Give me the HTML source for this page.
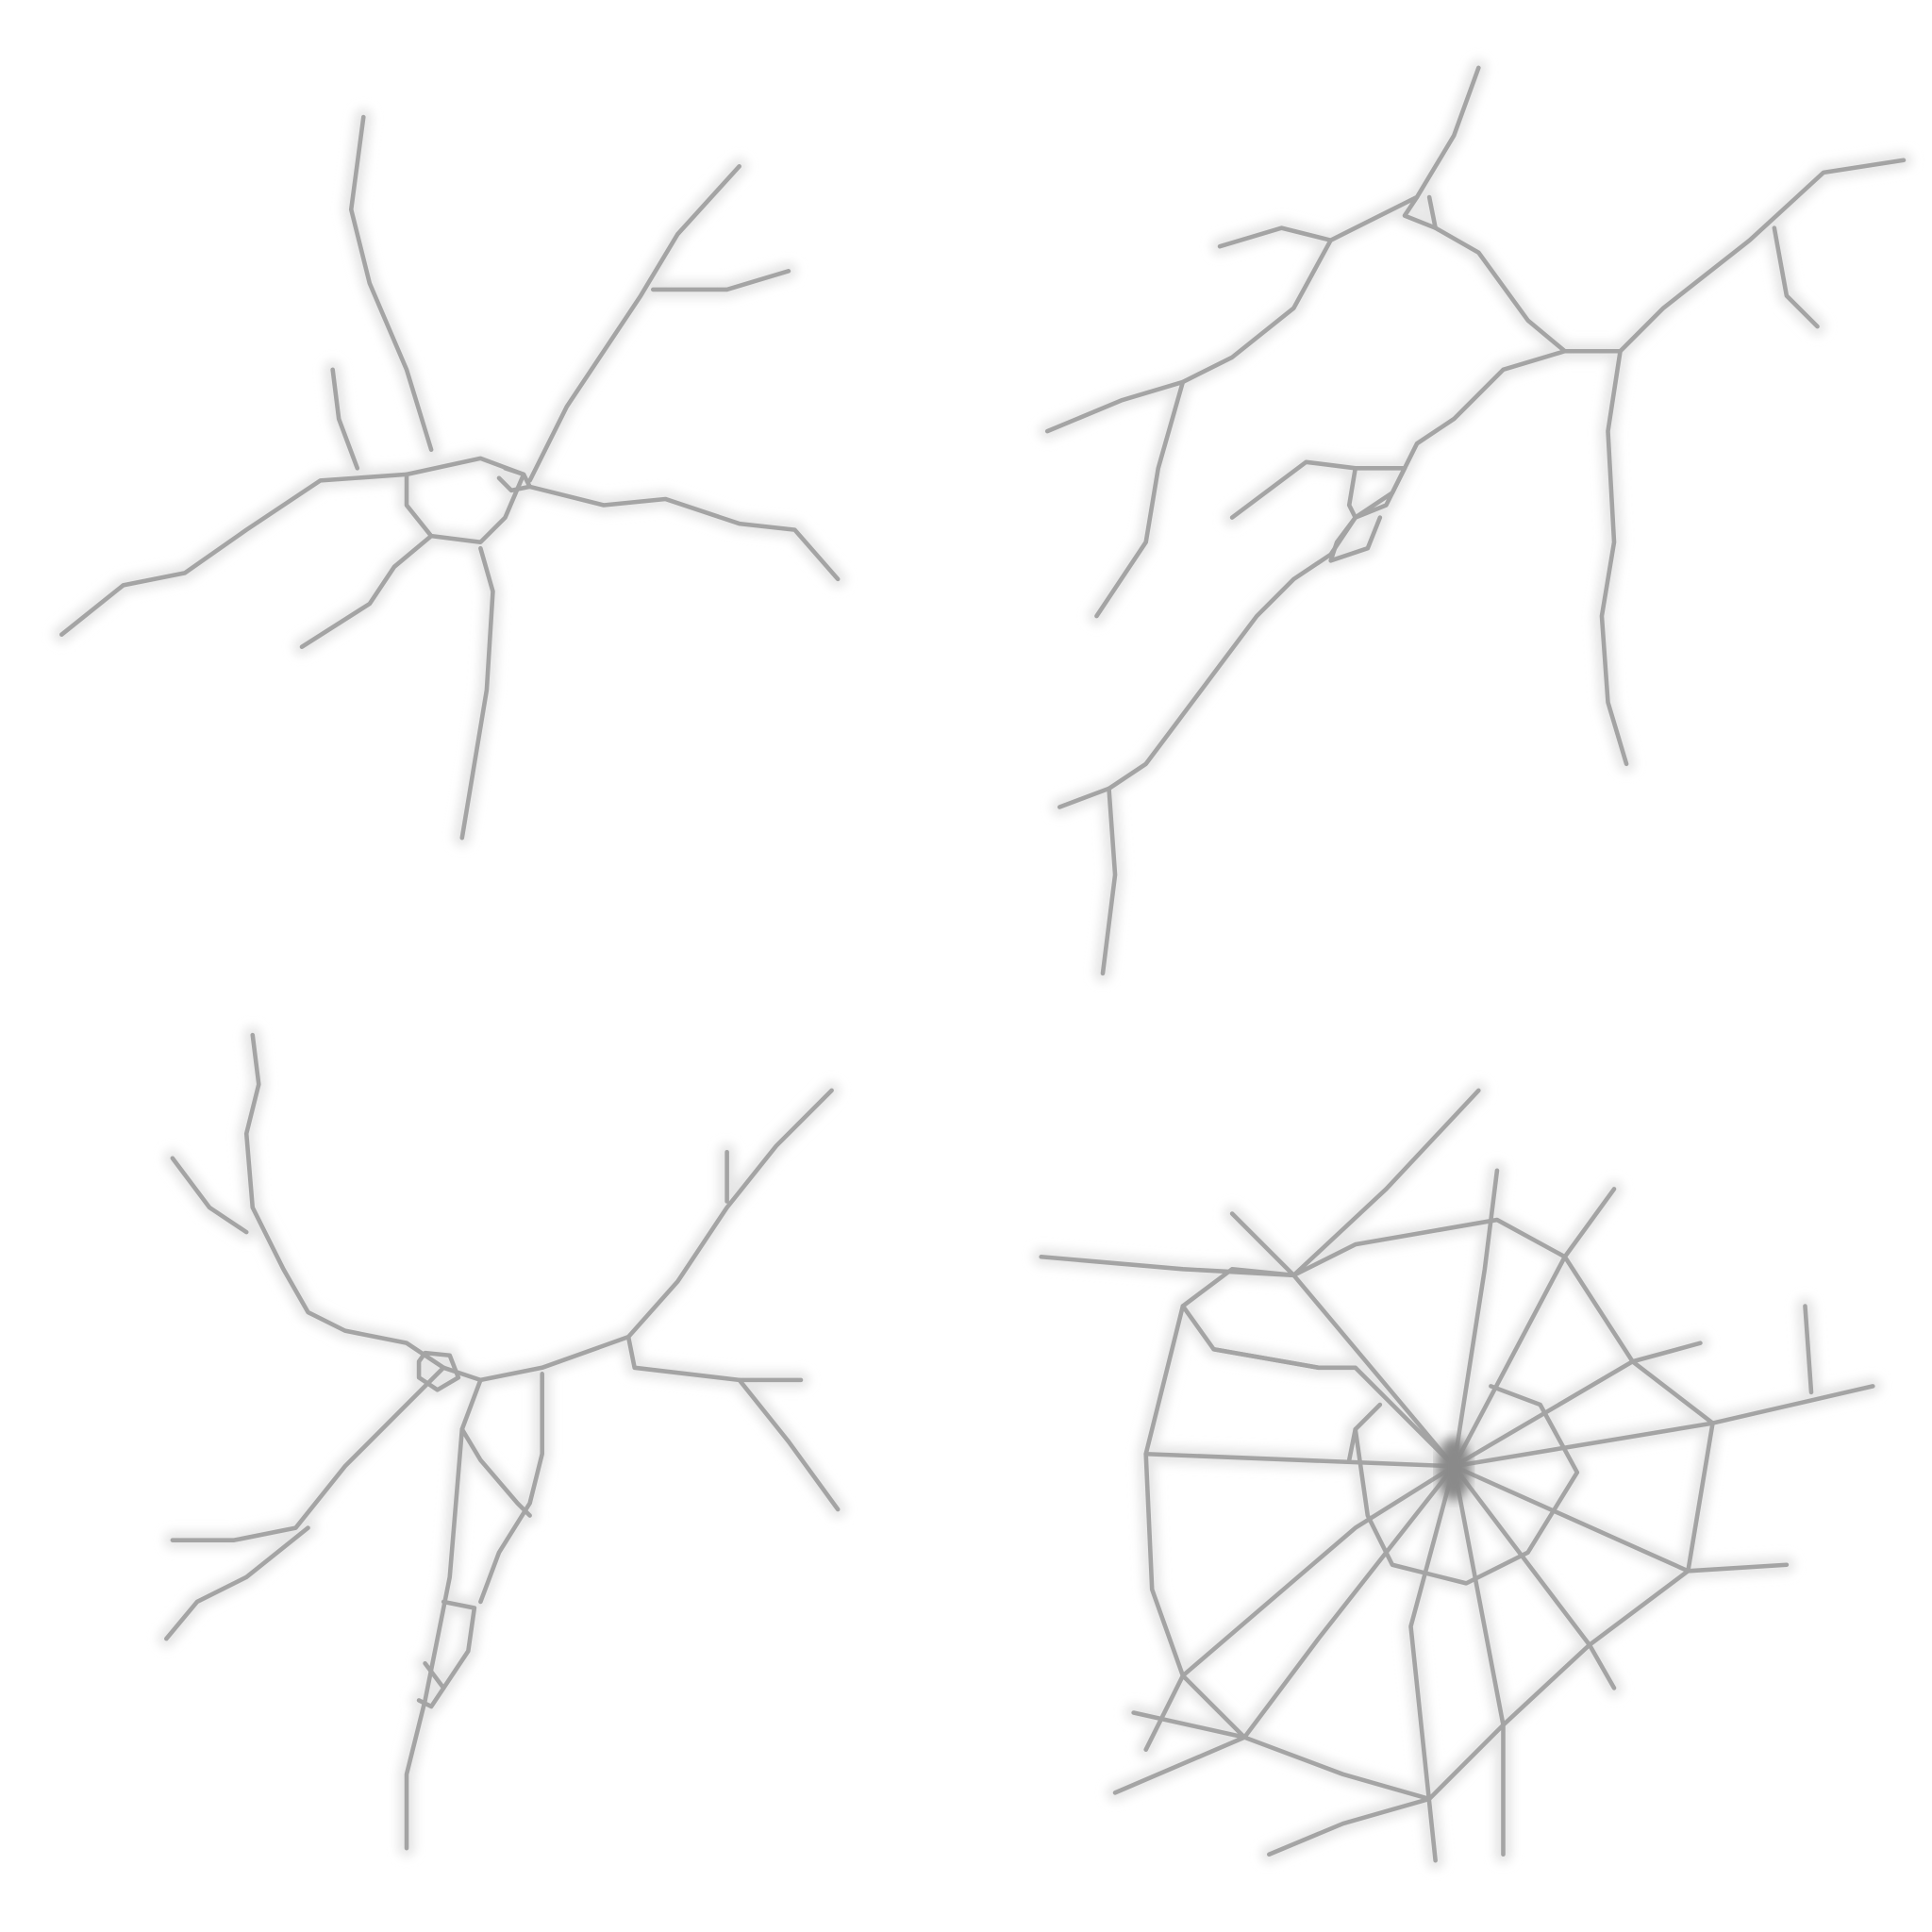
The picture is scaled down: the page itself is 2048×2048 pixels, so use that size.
<!DOCTYPE html>
<html><head><meta charset="utf-8"><style>
html,body{margin:0;padding:0;background:#fff;width:2048px;height:2048px;overflow:hidden}
svg{display:block}
</style></head><body>
<svg id="art" width="2048" height="2048" viewBox="0 0 1568 1568" xmlns="http://www.w3.org/2000/svg">
<defs><filter id="blur" x="-10%" y="-10%" width="120%" height="120%"><feGaussianBlur stdDeviation="4"/></filter></defs>
<g id="halo" filter="url(#blur)" fill="none" stroke="#e6e6e6" stroke-width="14" stroke-linejoin="round" stroke-linecap="round"></g>
<g id="lines" fill="none" stroke="#a4a4a4" stroke-width="3.5" stroke-linejoin="round" stroke-linecap="round"></g>
<ellipse cx="1180" cy="1192" rx="14" ry="26" fill="#8a8a8a" filter="url(#blur)"/>
</svg>
<script>
const crack1=[
"350,365 330,300 300,230 285,170 295,95","290,380 275,340 270,300",
"330,385 260,390 200,430 150,465 100,475 50,515",
"330,385 390,372 425,385 410,420 390,440 350,435 330,410 330,385",
"410,380 425,385 430,395 415,398 405,388",
"350,435 320,460 300,490 245,525","390,445 400,480 395,560 385,620 375,680",
"430,390 460,330 520,240 550,190 600,135","530,235 590,235 640,220",
"430,395 490,410 540,405 600,425 645,430 680,470"];
const crack2=[
"1200,55 1180,110 1150,160 1110,180 1080,195 1040,185 990,200",
"1150,160 1140,175 1165,185 1160,160",
"1165,185 1200,205 1240,260 1270,285 1315,285 1350,250 1420,195 1480,140 1545,130",
"1440,185 1450,240 1475,265",
"1080,195 1050,250 1000,290 960,310 910,325 850,350","960,310 940,380 930,440 890,500",
"1270,285 1220,300 1180,340 1150,360 1140,380 1100,380 1060,375 1000,420",
"1315,285 1305,350 1310,440 1300,500 1305,570 1320,620",
"1140,380 1130,400 1100,420 1080,450 1050,470 1020,500 990,540 960,580 930,620 900,640 860,655",
"1100,380 1095,410 1100,420 1125,410 1140,380","1100,420 1085,440 1080,455 1110,445 1120,420",
"900,640 905,710 895,790"];
const crack3=[
"205,840 210,880 200,920 205,980 230,1030 250,1065 280,1080 330,1090 360,1110 390,1120 440,1110 510,1085 550,1040 590,980 630,930 675,885",
"140,940 170,980 200,1000","590,975 590,935",
"510,1085 515,1110 600,1120 650,1120","600,1120 640,1170 680,1225",
"360,1110 320,1150 280,1190 240,1240 190,1250 140,1250",
"250,1240 200,1280 160,1300 135,1330",
"390,1120 375,1160 370,1220 365,1280 355,1330 345,1380 330,1440 330,1500",
"440,1115 440,1180 430,1220 405,1260 390,1300",
"340,1105 345,1098 365,1100 372,1118 355,1128 340,1118 340,1105",
"375,1160 390,1185 420,1220 430,1230",
"360,1300 385,1305 380,1340 350,1385 340,1380","345,1350 360,1370"];
const crack4=[
"1180,1190 1205,1030 1215,950","1180,1190 1270,1020 1310,965","1180,1190 1325,1105 1380,1090",
"1180,1190 1390,1155 1520,1125","1180,1190 1370,1275 1450,1270","1180,1190 1290,1335 1310,1370",
"1180,1190 1220,1400 1220,1505","1180,1190 1145,1320 1165,1510","1180,1190 1070,1330 1010,1410 905,1455",
"1180,1190 1100,1240 960,1360 930,1420","1180,1190 930,1180","1180,1190 1050,1035 1000,985",
"1050,1035 1125,965 1200,885",
"1000,1030 960,1060 930,1180 935,1290 960,1360 1010,1410 1090,1440 1160,1460 1220,1400 1290,1335 1370,1275 1390,1155 1325,1105 1270,1020 1215,990 1100,1010 1050,1035 1000,1030",
"845,1020 960,1030 1050,1035","985,1095 1070,1110 1100,1110 1180,1190",
"1100,1160 1110,1230 1130,1270 1190,1285 1240,1260 1280,1195 1250,1140 1210,1125",
"1465,1060 1470,1130","1030,1505 1090,1480 1160,1460","920,1390 1010,1410",
"960,1060 985,1095 1070,1110","1120,1140 1100,1160 1095,1185"];
const all=[crack1,crack2,crack3,crack4];
const names=['crack-top-left','crack-top-right','crack-bottom-left','crack-web-bottom-right'];
const NS='http://www.w3.org/2000/svg';
const halo=document.getElementById('halo'),lines=document.getElementById('lines');
all.forEach((set,i)=>{
  const gh=document.createElementNS(NS,'g'),gl=document.createElementNS(NS,'g');
  
  
  
  
  set.forEach(pts=>{
    const a=document.createElementNS(NS,'polyline');a.setAttribute('points',pts);
    
    
    gh.appendChild(a);
    const b=document.createElementNS(NS,'polyline');b.setAttribute('points',pts);
    
    
    gl.appendChild(b);
  });
  halo.appendChild(gh);lines.appendChild(gl);
});
</script>
</body></html>
